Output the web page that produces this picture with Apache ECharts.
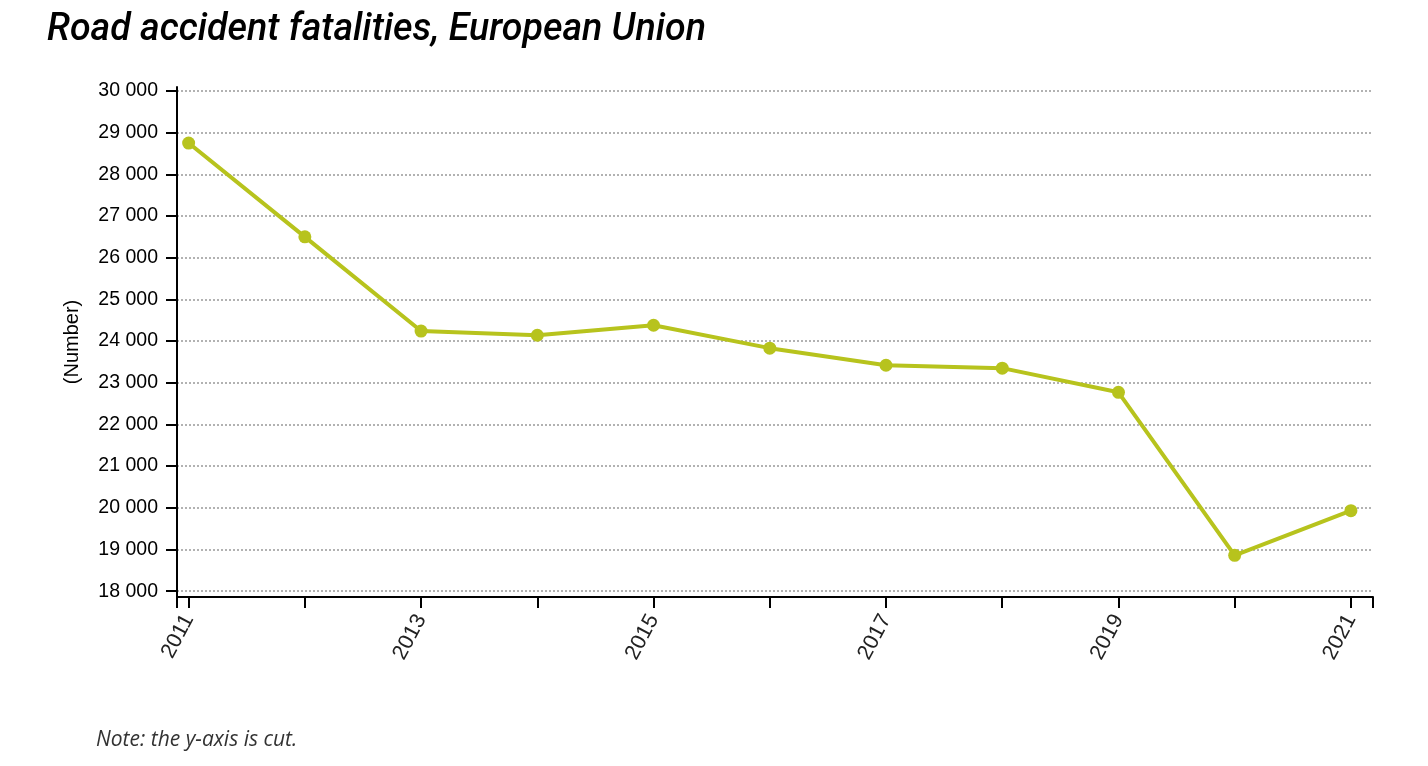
<!DOCTYPE html>
<html>
<head>
<meta charset="utf-8">
<script src="https://cdn.jsdelivr.net/npm/echarts@6/dist/echarts.min.js"></script>
<style>
html,body{margin:0;padding:0;background:#fff;}
#chart{width:1428px;height:766px;}
</style>
</head>
<body>
<div id="chart"></div>
<script>
// ---- data ----
const years = [2011, 2012, 2013, 2014, 2015, 2016, 2017, 2018, 2019, 2020, 2021];
const fatalities = [28750, 26500, 24240, 24140, 24380, 23830, 23420, 23350, 22770, 18860, 19930];
const xLabelYears = [2011, 2013, 2015, 2017, 2019, 2021];
const yTicks = [18000, 19000, 20000, 21000, 22000, 23000, 24000, 25000, 26000, 27000, 28000, 29000, 30000];
const titleText = 'Road accident fatalities, European Union';
const yAxisName = '(Number)';
const noteText = 'Note: the y-axis is cut.';

// axis domain (padding around data range, like the original)
const xMin = 2010.9;
const xMax = 2021.19;
const yMin = 17860;
const yMax = 30095;

// condensed-looking title: measure Roboto italic and squeeze to target width
const titleSize = 39;
const titleFont = 'italic 500 ' + titleSize + 'px Roboto';
const titleTargetWidth = 659;
const mc = document.createElement('canvas').getContext('2d');
mc.font = titleFont;
const titleScale = titleTargetWidth / mc.measureText(titleText).width;

const chart = echarts.init(document.getElementById('chart'), null, {renderer: 'canvas'});
const fmt = v => String(v).replace(/\B(?=(\d{3})+(?!\d))/g, ' ');

chart.setOption({
  animation: false,
  backgroundColor: '#ffffff',
  graphic: [
    {
      type: 'text',
      x: 47,
      y: 11,
      scaleX: titleScale,
      style: {
        text: titleText,
        fontFamily: 'Roboto, sans-serif',
        fontStyle: 'italic',
        fontWeight: 500,
        fontSize: titleSize,
        fill: '#000',
        textVerticalAlign: 'top'
      }
    }
  ],
  title: [
    {
      text: noteText,
      left: 91,
      top: 725,
      textStyle: {
        fontFamily: '"Open Sans", sans-serif',
        fontStyle: 'italic',
        fontWeight: 'normal',
        fontSize: 21,
        color: '#333'
      }
    }
  ],
  grid: {
    left: 177,
    right: 55,
    top: 87,
    bottom: 169,
    containLabel: false
  },
  xAxis: {
    type: 'value',
    min: xMin,
    max: xMax,
    axisLine: {show: true, lineStyle: {color: '#000', width: 2}},
    axisTick: {
      show: true,
      length: 11,
      lineStyle: {color: '#000', width: 2},
      customValues: [xMin].concat(years, [xMax])
    },
    axisLabel: {
      customValues: xLabelYears,
      rotate: 62,
      margin: 19,
      fontFamily: '"Liberation Sans", Arial, sans-serif',
      fontSize: 21.5,
      color: '#222',
      formatter: v => String(v)
    },
    splitLine: {show: false}
  },
  yAxis: {
    type: 'value',
    min: yMin,
    max: yMax,
    name: yAxisName,
    nameLocation: 'middle',
    nameGap: 95,
    nameRotate: 90,
    nameTextStyle: {
      fontFamily: '"Liberation Sans", Arial, sans-serif',
      fontSize: 20,
      color: '#000'
    },
    axisLine: {show: true, lineStyle: {color: '#000', width: 2}},
    axisTick: {
      show: true,
      length: 11,
      lineStyle: {color: '#000', width: 2},
      customValues: yTicks
    },
    axisLabel: {
      customValues: yTicks,
      margin: 19,
      fontFamily: '"Liberation Sans", Arial, sans-serif',
      fontSize: 19.5,
      color: '#000',
      formatter: v => fmt(v)
    },
    splitLine: {
      show: true,
      lineStyle: {color: '#999999', width: 1.5, type: [2, 2]}
    }
  },
  series: [{
    type: 'line',
    data: years.map((y, i) => [y, fatalities[i]]),
    symbol: 'circle',
    symbolSize: 13,
    showSymbol: true,
    lineStyle: {color: '#b7c31d', width: 4},
    itemStyle: {color: '#b7c31d'},
    z: 5
  }]
});
</script>
</body>
</html>
